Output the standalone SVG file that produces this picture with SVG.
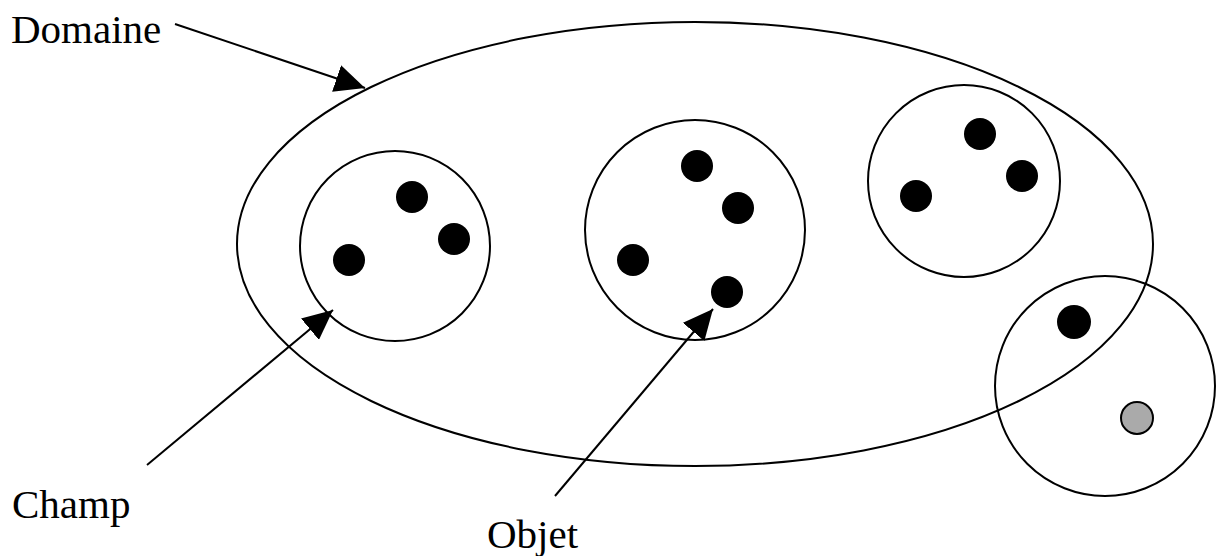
<svg xmlns="http://www.w3.org/2000/svg" width="1216" height="556" viewBox="0 0 1216 556">
<style>
.outline{fill:none;stroke:#000;stroke-width:2}
.dot{fill:#000}
.gray{fill:#aaa;stroke:#000;stroke-width:2}
.lbl{font-family:"Liberation Serif","Times New Roman",serif;font-size:41px;fill:#000}
.conn{stroke:#000;stroke-width:2;fill:none;marker-end:url(#ah)}
</style>
<defs>
<marker id="ah" markerUnits="userSpaceOnUse" markerWidth="32" markerHeight="28" viewBox="0 0 32 28" refX="30" refY="14" orient="auto">
<path d="M0,0 L30,14 L0,28 Z" fill="#000"/>
</marker>
</defs>
<rect width="1216" height="556" fill="#fff"/>
<g id="domaine"><ellipse class="outline" cx="695" cy="244" rx="458" ry="222"/></g>
<g id="champ1">
<circle class="outline" cx="395" cy="246" r="95"/>
<circle class="dot" cx="412" cy="197" r="16"/>
<circle class="dot" cx="454" cy="239" r="16"/>
<circle class="dot" cx="349" cy="260" r="16"/>
</g>
<g id="champ2">
<circle class="outline" cx="695" cy="230" r="110"/>
<circle class="dot" cx="697" cy="166" r="16"/>
<circle class="dot" cx="738" cy="208" r="16"/>
<circle class="dot" cx="633" cy="260" r="16"/>
<circle class="dot" cx="727" cy="292" r="16"/>
</g>
<g id="champ3">
<circle class="outline" cx="964" cy="181" r="96"/>
<circle class="dot" cx="980" cy="134" r="16"/>
<circle class="dot" cx="1022" cy="176" r="16"/>
<circle class="dot" cx="916" cy="196" r="16"/>
</g>
<g id="champ4">
<circle class="outline" cx="1105" cy="386" r="110"/>
<circle class="dot" cx="1074" cy="322" r="17"/>
<circle class="gray" cx="1137" cy="418" r="16"/>
</g>
<g id="labels">
<text class="lbl" x="11" y="43">Domaine</text>
<text class="lbl" x="12" y="518">Champ</text>
<text class="lbl" x="487" y="548">Objet</text>
</g>
<g id="connectors">
<line class="conn" x1="175" y1="24" x2="365" y2="88"/>
<line class="conn" x1="147" y1="465" x2="333" y2="310"/>
<line class="conn" x1="555" y1="496" x2="713" y2="309"/>
</g>
</svg>
